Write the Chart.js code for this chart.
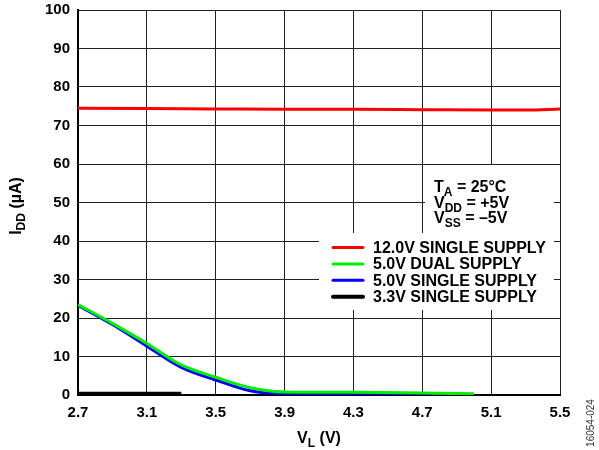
<!DOCTYPE html>
<html>
<head>
<meta charset="utf-8">
<script src="https://cdn.jsdelivr.net/npm/chart.js@4.4.0/dist/chart.umd.min.js"></script>
<style>
  body { margin: 0; background: #fff; }
  #wrap { width: 599px; height: 450px; }
</style>
</head>
<body>
<div id="wrap"><canvas id="c" width="599" height="450"></canvas></div>
<script>
// data (VL in volts, IDD in µA)
const xTicks = [2.7, 3.1, 3.5, 3.9, 4.3, 4.7, 5.1, 5.5];
const yTicks = [0, 10, 20, 30, 40, 50, 60, 70, 80, 90, 100];

const vl12 = [2.7, 3.1, 3.5, 3.9, 4.3, 4.7, 5.1, 5.3, 5.5];
const idd12 = [74.5, 74.4, 74.3, 74.2, 74.2, 74.1, 74.0, 74.0, 74.3];

const vl5 = [2.7, 2.9, 3.1, 3.3, 3.5, 3.7, 3.9, 4.3, 4.7, 5.0];
const idd5Dual = [23.5, 18.6, 13.4, 7.8, 4.6, 1.9, 0.8, 0.7, 0.5, 0.3];
const idd5Single = [23.3, 18.3, 12.7, 7.2, 3.9, 1.1, 0.3, 0.1, 0.1, 0.1];

const vl33 = [2.7, 3.3];
const idd33 = [0.3, 0.3];

const labels = ['12.0V SINGLE SUPPLY', '5.0V DUAL SUPPLY', '5.0V SINGLE SUPPLY', '3.3V SINGLE SUPPLY'];
const colors = ['#ff0000', '#00ee00', '#0000ff', '#000000'];

function pts(xs, ys) {
  return xs.map((x, i) => ({ x: x, y: ys[i] }));
}

const FONT = '"Liberation Sans", Arial, sans-serif';

// draw "main" + subscript + rest at given position
function subText(ctx, x, y, main, sub, rest, size, align) {
  const small = Math.round(size * 0.75);
  ctx.font = 'bold ' + size + 'px ' + FONT;
  const w1 = ctx.measureText(main).width;
  const w3 = ctx.measureText(rest).width;
  ctx.font = 'bold ' + small + 'px ' + FONT;
  const w2 = ctx.measureText(sub).width;
  let sx = x;
  if (align === 'center') sx = x - (w1 + w2 + w3) / 2;
  ctx.textAlign = 'left';
  ctx.textBaseline = 'alphabetic';
  ctx.font = 'bold ' + size + 'px ' + FONT;
  ctx.fillText(main, sx, y);
  ctx.font = 'bold ' + small + 'px ' + FONT;
  ctx.fillText(sub, sx + w1, y + 4);
  ctx.font = 'bold ' + size + 'px ' + FONT;
  ctx.fillText(rest, sx + w1 + w2, y);
}

const extras = {
  id: 'extras',
  beforeDatasetsDraw(chart) {
    const ctx = chart.ctx;
    ctx.save();
    ctx.fillStyle = '#fff';
    ctx.fillRect(425, 165, 129, 70);
    ctx.fillRect(319, 233, 235, 77);
    ctx.restore();
  },
  afterDatasetsDraw(chart) {
    const ctx = chart.ctx;
    ctx.save();
    ctx.fillStyle = '#000';

    // conditions
    subText(ctx, 434, 192, 'T', 'A', ' = 25°C', 16);
    subText(ctx, 434, 208, 'V', 'DD', ' = +5V', 16);
    subText(ctx, 434, 223, 'V', 'SS', ' = –5V', 16);

    // legend
    chart.data.datasets.forEach((ds, i) => {
      const y = 247.5 + i * 16.4;
      ctx.strokeStyle = ds.borderColor;
      ctx.lineWidth = i === 3 ? 4 : 3;
      ctx.lineCap = 'round';
      ctx.beginPath();
      ctx.moveTo(333, y);
      ctx.lineTo(363, y);
      ctx.stroke();
      ctx.font = 'bold 16px ' + FONT;
      ctx.textAlign = 'left';
      ctx.textBaseline = 'middle';
      ctx.fillText(ds.label, 373, y + 1);
    });

    // axis titles
    subText(ctx, 319, 443, 'V', 'L', ' (V)', 16, 'center');
    ctx.save();
    ctx.translate(21, 206);
    ctx.rotate(-Math.PI / 2);
    subText(ctx, 0, 0, 'I', 'DD', ' (µA)', 16, 'center');
    ctx.restore();

    // figure code
    ctx.save();
    ctx.translate(591, 423);
    ctx.rotate(-Math.PI / 2);
    ctx.font = '10px ' + FONT;
    ctx.fillStyle = '#333';
    ctx.textAlign = 'center';
    ctx.textBaseline = 'middle';
    ctx.fillText('16054-024', 0, 0);
    ctx.restore();

    ctx.restore();
  }
};

const makeSet = (i, data, width) => ({
  label: labels[i],
  data: data,
  borderColor: colors[i],
  backgroundColor: colors[i],
  borderWidth: width,
  pointRadius: 0,
  fill: false,
  cubicInterpolationMode: 'monotone',
  borderCapStyle: 'butt'
});

new Chart(document.getElementById('c'), {
  type: 'line',
  data: {
    datasets: [
      makeSet(0, pts(vl12, idd12), 3),
      makeSet(1, pts(vl5, idd5Dual), 3),
      makeSet(2, pts(vl5, idd5Single), 3),
      makeSet(3, pts(vl33, idd33), 4)
    ]
  },
  options: {
    responsive: false,
    animation: false,
    layout: { padding: { top: 10, right: 39, left: 0, bottom: 0 } },
    plugins: {
      legend: { display: false },
      tooltip: { enabled: false }
    },
    scales: {
      x: {
        type: 'linear',
        min: 2.7,
        max: 5.5,
        afterBuildTicks: (scale) => { scale.ticks = xTicks.map(v => ({ value: v })); },
        afterFit: (scale) => {
          scale.height = 55;
          scale.paddingLeft = 0;
          scale.paddingRight = 0;
        },
        grid: { color: '#222', lineWidth: 1, drawTicks: false },
        border: { display: true, color: '#000', width: 2 },
        ticks: {
          color: '#000',
          padding: 9,
          maxRotation: 0,
          font: { family: FONT, size: 15, weight: 'bold' },
          callback: (v) => Number(v).toFixed(1)
        }
      },
      y: {
        min: 0,
        max: 100,
        afterBuildTicks: (scale) => { scale.ticks = yTicks.map(v => ({ value: v })); },
        afterFit: (scale) => {
          scale.width = 78;
          scale.paddingTop = 0;
          scale.paddingBottom = 0;
        },
        grid: { color: '#222', lineWidth: 1, drawTicks: false },
        border: { display: true, color: '#000', width: 2 },
        ticks: {
          color: '#000',
          padding: 8,
          font: { family: FONT, size: 15, weight: 'bold' }
        }
      }
    }
  },
  plugins: [extras]
});
</script>
</body>
</html>
